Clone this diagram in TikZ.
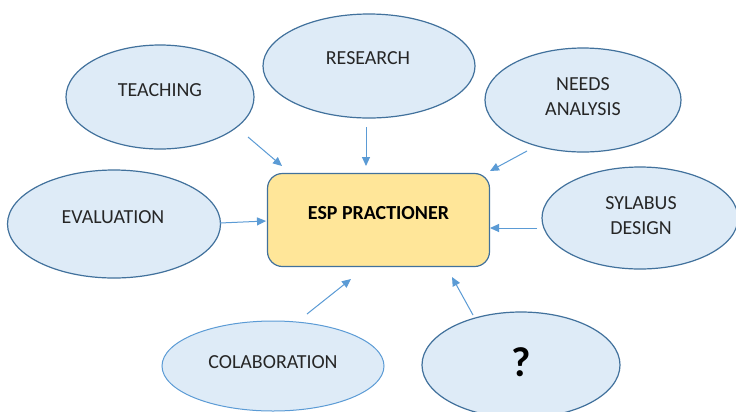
\documentclass[tikz,border=0pt]{standalone}
\usepackage{fontspec}
\setmainfont{Carlito}
\usetikzlibrary{arrows.meta,shapes.geometric,positioning}
\definecolor{bubblefill}{RGB}{222,235,247}
\definecolor{bubbleline}{RGB}{65,113,156}
\definecolor{lightline}{RGB}{91,155,213}
\definecolor{boxfill}{RGB}{255,230,153}
\newcommand{\bubtext}{\fontsize{20}{25}\selectfont}

\begin{document}
\begin{tikzpicture}[x=1bp,y=-1bp,
  bubble/.style={ellipse,draw=bubbleline,fill=bubblefill,line width=1.2bp,inner sep=0pt},
  lbl/.style={font=\bubtext,align=center,text=black!85},
  link/.style={draw=lightline,line width=1bp,-{Triangle[length=9bp,width=8bp]}}]
  \clip (0,0) rectangle (736,411);
  \fill[white] (0,0) rectangle (736,411);
  % the bubbles
  \node[bubble,minimum width=188bp,minimum height=104bp] (teach) at (160,97) {};
  \node[bubble,minimum width=212bp,minimum height=104bp] (research) at (369,66) {};
  \node[bubble,minimum width=196bp,minimum height=104bp] (needs) at (583,100) {};
  \node[bubble,minimum width=213bp,minimum height=108bp] (eval) at (114,224) {};
  \node[bubble,minimum width=196bp,minimum height=102bp] (sylabus) at (640,218) {};
  \node[bubble,draw=lightline,line width=1bp,minimum width=222bp,minimum height=90bp] (colab) at (273,366) {};
  \node[bubble,minimum width=198bp,minimum height=106bp] (quest) at (521,365) {};
  % centre box
  \node[draw=bubbleline,fill=boxfill,line width=1.2bp,rounded corners=15bp,text depth=14bp,
        minimum width=222bp,minimum height=93bp,font=\bubtext\bfseries] (esp) at (378.5,220) {ESP PRACTIONER};
  % texts
  \node[lbl] (teach-t) at (160,90) {TEACHING};
  \node[lbl] (research-t) at (368,58) {RESEARCH};
  \node[lbl] (needs-t) at (583,97) {NEEDS\\ANALYSIS};
  \node[lbl] (eval-t) at (113,217) {EVALUATION};
  \node[lbl] (sylabus-t) at (641,216) {SYLABUS\\DESIGN};
  \node[lbl] (colab-t) at (273,362) {COLABORATION};
  \node[lbl,text=black,font=\fontsize{42}{44}\selectfont\bfseries] (quest-t) at (521,362) {?};
  % arrows into the box
  \draw[link] ([shift={(88,40)}]teach.center) -- ([shift={(-96.5,-54)}]esp.center);
  \draw[link] ([shift={(-3,61)}]research.center) -- ([shift={(-12.5,-54)}]esp.center);
  \draw[link] ([shift={(-56,51)}]needs.center) -- ([shift={(111.5,-49)}]esp.center);
  \draw[link] ([shift={(106,-1)}]eval.center) -- ([shift={(-112.5,1)}]esp.center);
  \draw[link] ([shift={(-103,10)}]sylabus.center) -- ([shift={(111.5,8)}]esp.center);
  \draw[link] ([shift={(34,-52)}]colab.center) -- ([shift={(-27.5,59)}]esp.center);
  \draw[link] ([shift={(-48,-50)}]quest.center) -- ([shift={(73.5,57)}]esp.center);
\end{tikzpicture}
\end{document}
